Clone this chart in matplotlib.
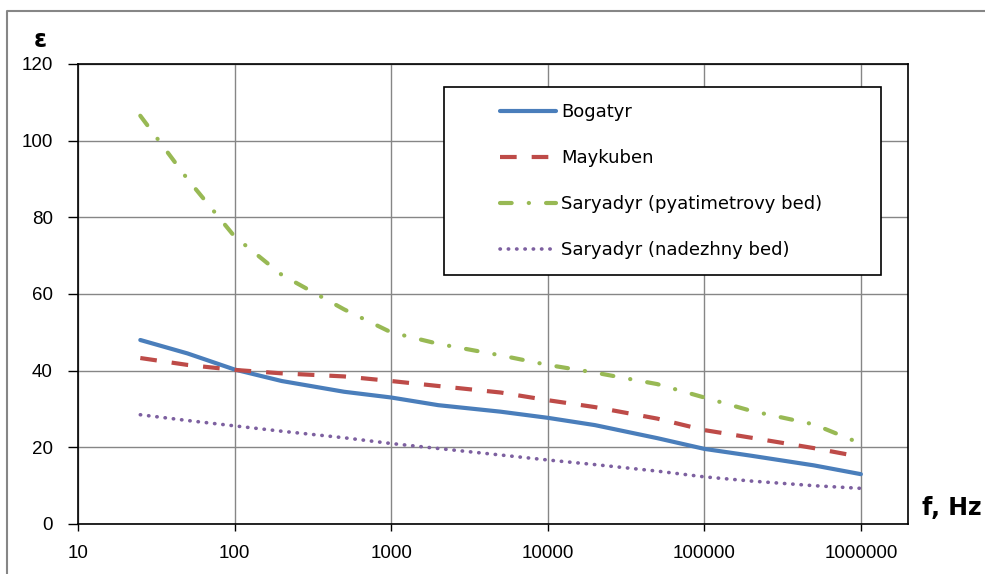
import matplotlib
matplotlib.use("Agg")
import matplotlib.pyplot as plt
from matplotlib.lines import Line2D
from matplotlib.patches import Rectangle

plt.rcParams["font.family"] = ["Liberation Sans", "DejaVu Sans"]

freq = [25, 50, 100, 200, 500, 1000, 2000, 5000, 10000, 20000, 50000,
        100000, 200000, 500000, 1000000]
bogatyr = [48, 44.5, 40.3, 37.3, 34.5, 33, 31, 29.3, 27.7, 25.8, 22.4,
           19.6, 17.8, 15.3, 13]
maykuben = [43.3, 41.5, 40.2, 39.3, 38.5, 37.3, 36, 34.3, 32.3, 30.5, 27.5,
            24.5, 22.5, 19.8, 17.5]
sary_pyat = [106.5, 90, 75, 65, 56, 50, 47, 44, 41.5, 39.5, 36.5,
             33, 29.5, 26, 21]
sary_nad = [28.5, 27, 25.6, 24.2, 22.5, 21, 19.7, 18, 16.7, 15.5, 13.8,
            12.3, 11.2, 10, 9.3]
labels = ["Bogatyr", "Maykuben", "Saryadyr (pyatimetrovy bed)", "Saryadyr (nadezhny bed)"]
xticks = [10, 100, 1000, 10000, 100000, 1000000]
xticklabels = ["10", "100", "1000", "10000", "100000", "1000000"]
yticks = [0, 20, 40, 60, 80, 100, 120]

W, H = 985, 574
fig = plt.figure(figsize=(W / 100, H / 100), dpi=100)
AX_L, AX_R, AX_T, AX_B = 78, 908, 64, 524
ax = fig.add_axes([AX_L / W, 1 - AX_B / H, (AX_R - AX_L) / W, (AX_B - AX_T) / H])

c_blue = "#4a7ebb"
c_red = "#be4b48"
c_green = "#98b954"
c_purple = "#7d60a0"

styles = [
    dict(color=c_blue, lw=3, solid_capstyle="round"),
    dict(color=c_red, lw=3, dashes=(4, 3.6)),
    dict(color=c_green, lw=3, dashes=(2.8, 4.1, 0.05, 4.1), dash_capstyle="round"),
    dict(color=c_purple, lw=2.6, dashes=(0.1, 2.2), dash_capstyle="round"),
]
series = [bogatyr, maykuben, sary_pyat, sary_nad]
for vals, st, lab in zip(series, styles, labels):
    ax.plot(freq, vals, label=lab, **st)

ax.set_xscale("log")
ax.set_xlim(10, 2.0e6)
ax.set_ylim(0, 120)
ax.set_xticks(xticks)
ax.set_xticklabels(xticklabels)
ax.minorticks_off()
ax.set_yticks(yticks)
ax.grid(True, color="#868686", lw=1)
ax.set_axisbelow(True)
for s in ax.spines.values():
    s.set_color("black")
    s.set_linewidth(1.2)
ax.tick_params(axis="both", direction="out", width=1, colors="black", labelsize=13.5)
ax.tick_params(axis="y", length=7, pad=11)
ax.tick_params(axis="x", length=5, pad=10)

fig.text(40 / W, 1 - 40 / H, "ε", fontsize=17, fontweight="bold", ha="center", va="center",
         family="DejaVu Sans")
fig.text(952 / W, 1 - 508 / H, "f, Hz", fontsize=17, fontweight="bold", ha="center", va="center",
         family="DejaVu Sans")

# legend frame
def ax_xy(px, py):
    return ((px - AX_L) / (AX_R - AX_L), (AX_B - py) / (AX_B - AX_T))

x0, y0 = ax_xy(444, 275)
x1, y1 = ax_xy(881, 87)
ax.add_patch(Rectangle((x0, y0), x1 - x0, y1 - y0, transform=ax.transAxes,
                       facecolor="white", edgecolor="black", lw=1.2, zorder=5,
                       clip_on=False))

handles = [Line2D([], [], **st) for st in styles]
ax_anchor = ax_xy(500, 111 - 8)
leg = ax.legend(handles, labels, loc="upper left", bbox_to_anchor=ax_anchor,
                frameon=False, prop=dict(family="DejaVu Sans", size=13),
                handlelength=3.1, labelspacing=1.55,
                borderpad=0, handletextpad=0.3, borderaxespad=0)
leg.set_zorder(6)

# outer border (top & left)
fig.add_artist(Line2D([7 / W, 7 / W, 1], [0, 1 - 11 / H, 1 - 11 / H], color="#868686", lw=1.5,
                      transform=fig.transFigure))

fig.savefig("out.png", dpi=100)
